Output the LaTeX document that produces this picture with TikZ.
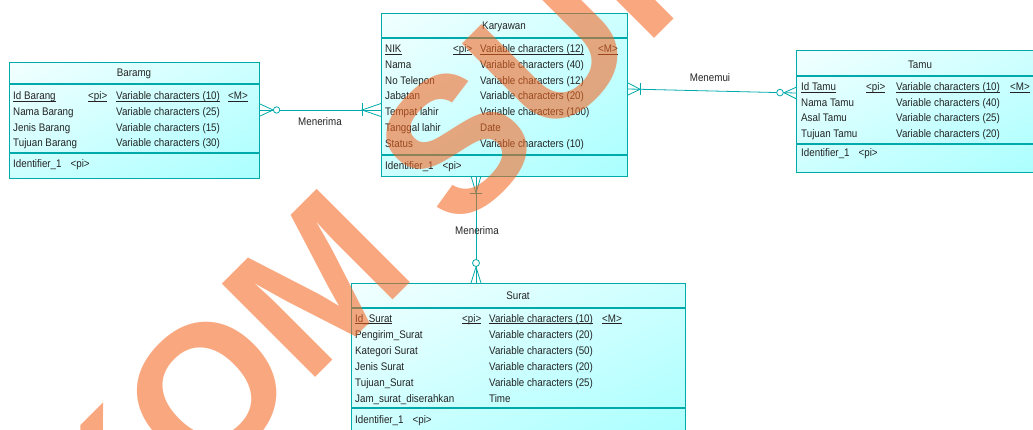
\documentclass[tikz,border=0pt]{standalone}
\usepackage{fontspec}
\setmainfont{Liberation Sans}[FakeStretch=0.89]
\newfontfamily\wmfont{Liberation Sans}
\usetikzlibrary{calc,shadings}

\definecolor{erline}{RGB}{0,170,170}
\definecolor{erlight}{RGB}{242,255,255}
\definecolor{ermid}{RGB}{205,255,255}
\definecolor{erdeep}{RGB}{170,255,255}
\definecolor{ertext}{RGB}{35,35,35}
\definecolor{wmorange}{RGB}{245,100,30}

\newcommand\erfont{\fontsize{11pt}{13pt}\selectfont}
% primary-key underline at a fixed depth
\newcommand\pk[1]{\setbox0\hbox{#1}\rlap{\rule[-1.8pt]{\wd0}{0.6pt}}\box0}

\begin{document}
\begin{tikzpicture}[x=1pt,y=-1pt,
  entity/.style={draw=erline, line width=1.1pt, shade,
    upper left=erlight, upper right=ermid, lower left=ermid, lower right=erdeep,
    inner sep=0pt, anchor=north west},
  rule/.style={draw=erline, line width=1.1pt},
  conn/.style={draw=erline, line width=0.8pt},
  title/.style={anchor=base, inner sep=0pt, font=\erfont, text=ertext},
  fld/.style={anchor=base west, inner sep=0pt, font=\erfont, text=ertext},
  rel/.style={anchor=base, inner sep=0pt, font=\erfont, text=ertext},
  wm/.style={rotate=45, inner sep=0pt, outer sep=0pt, text=wmorange, text opacity=0.57,
    font=\wmfont\bfseries\fontsize{191.8pt}{192pt}\selectfont}]
\useasboundingbox (0,0) rectangle (1033,430);
\begin{scope}
\clip (0,0) rectangle (1033,430);

% ---------------- Barang ----------------
\node[entity, minimum width=250pt, minimum height=116pt] (barang) at (9,62) {};
\draw[rule] ($(barang.north west)+(0,22)$) -- ($(barang.north east)+(0,22)$);
\draw[rule] ($(barang.north west)+(0,91)$) -- ($(barang.north east)+(0,91)$);
\node[title] (barang-t) at (134,77) {Baramg};
\node[fld] (b1n) at (13,99.5) {\pk{Id Barang}};
\node[fld] (b1p) at (88,99.5) {\pk{<pi>}};
\node[fld] (b1t) at (116,99.5) {\pk{Variable characters (10)}};
\node[fld] (b1m) at (228,99.5) {\pk{<M>}};
\node[fld] (b2n) at (13,115.3) {Nama Barang};
\node[fld] (b2t) at (116,115.3) {Variable characters (25)};
\node[fld] (b3n) at (13,131.1) {Jenis Barang};
\node[fld] (b3t) at (116,131.1) {Variable characters (15)};
\node[fld] (b4n) at (13,146.9) {Tujuan Barang};
\node[fld] (b4t) at (116,146.9) {Variable characters (30)};
\node[fld] (bkey) at (13,167.7) {Identifier\_1\hspace{9pt}<pi>};

% ---------------- Karyawan ----------------
\node[entity, minimum width=246pt, minimum height=163pt] (kary) at (381,13) {};
\draw[rule] ($(kary.north west)+(0,25)$) -- ($(kary.north east)+(0,25)$);
\draw[rule] ($(kary.north west)+(0,142)$) -- ($(kary.north east)+(0,142)$);
\node[title] (kary-t) at (504,29.7) {Karyawan};
\node[fld] (k1n) at (385,52.6) {\pk{NIK}};
\node[fld] (k1p) at (453,52.6) {\pk{<pi>}};
\node[fld] (k1t) at (480,52.6) {\pk{Variable characters (12)}};
\node[fld] (k1m) at (598,52.6) {\pk{<M>}};
\node[fld] (k2n) at (385,68.4) {Nama};
\node[fld] (k2t) at (480,68.4) {Variable characters (40)};
\node[fld] (k3n) at (385,84.2) {No Telepon};
\node[fld] (k3t) at (480,84.2) {Variable characters (12)};
\node[fld] (k4n) at (385,100) {Jabatan};
\node[fld] (k4t) at (480,100) {Variable characters (20)};
\node[fld] (k5n) at (385,115.8) {Tempat lahir};
\node[fld] (k5t) at (480,115.8) {Variable characters (100)};
\node[fld] (k6n) at (385,131.6) {Tanggal lahir};
\node[fld] (k6t) at (480,131.6) {Date};
\node[fld] (k7n) at (385,147.4) {Status};
\node[fld] (k7t) at (480,147.4) {Variable characters (10)};
\node[fld] (kkey) at (385,170) {Identifier\_1\hspace{9pt}<pi>};

% ---------------- Tamu ----------------
\node[entity, minimum width=248pt, minimum height=122pt] (tamu) at (796,50) {};
\draw[rule] ($(tamu.north west)+(0,26)$) -- ($(tamu.north east)+(0,26)$);
\draw[rule] ($(tamu.north west)+(0,94)$) -- ($(tamu.north east)+(0,94)$);
\node[title] (tamu-t) at (920,68.3) {Tamu};
\node[fld] (t1n) at (801,90.6) {\pk{Id Tamu}};
\node[fld] (t1p) at (866,90.6) {\pk{<pi>}};
\node[fld] (t1t) at (896,90.6) {\pk{Variable characters (10)}};
\node[fld] (t1m) at (1010,90.6) {\pk{<M>}};
\node[fld] (t2n) at (801,106.2) {Nama Tamu};
\node[fld] (t2t) at (896,106.2) {Variable characters (40)};
\node[fld] (t3n) at (801,121.8) {Asal Tamu};
\node[fld] (t3t) at (896,121.8) {Variable characters (25)};
\node[fld] (t4n) at (801,137.4) {Tujuan Tamu};
\node[fld] (t4t) at (896,137.4) {Variable characters (20)};
\node[fld] (tkey) at (801,157) {Identifier\_1\hspace{9pt}<pi>};

% ---------------- Surat ----------------
\node[entity, minimum width=334pt, minimum height=153pt] (surat) at (351,283) {};
\draw[rule] ($(surat.north west)+(0,25)$) -- ($(surat.north east)+(0,25)$);
\draw[rule] ($(surat.north west)+(0,125)$) -- ($(surat.north east)+(0,125)$);
\node[title] (surat-t) at (518,299) {Surat};
\node[fld] (s1n) at (355,322) {\pk{Id\_Surat}};
\node[fld] (s1p) at (462,322) {\pk{<pi>}};
\node[fld] (s1t) at (489,322) {\pk{Variable characters (10)}};
\node[fld] (s1m) at (602,322) {\pk{<M>}};
\node[fld] (s2n) at (355,338) {Pengirim\_Surat};
\node[fld] (s2t) at (489,338) {Variable characters (20)};
\node[fld] (s3n) at (355,354) {Kategori Surat};
\node[fld] (s3t) at (489,354) {Variable characters (50)};
\node[fld] (s4n) at (355,370) {Jenis Surat};
\node[fld] (s4t) at (489,370) {Variable characters (20)};
\node[fld] (s5n) at (355,386) {Tujuan\_Surat};
\node[fld] (s5t) at (489,386) {Variable characters (25)};
\node[fld] (s6n) at (355,402) {Jam\_surat\_diserahkan};
\node[fld] (s6t) at (489,402) {Time};
\node[fld] (skey) at (355,423) {Identifier\_1\hspace{9pt}<pi>};

% ---------------- Relationships ----------------
% Barang (0..n) -- Karyawan (1..n): Menerima
\coordinate (r1a) at (barang.east |- 0,110);
\coordinate (r1b) at (kary.west |- 0,110);
\draw[conn] (r1a) -- (r1b);
\draw[conn] (r1a) ++(0,-6) -- ++(13,6) -- ++(-13,6);
\draw[conn, fill=white] ($(r1a)+(16.5,0)$) circle[radius=3.2];
\draw[conn] (r1b) ++(0,-6.5) -- ++(-19,6.5) -- ++(19,6.5);
\draw[conn] ($(r1b)+(-19,-6.5)$) -- ($(r1b)+(-19,6.5)$);
\node[rel] (r1l) at (320,126) {Menerima};

% Karyawan (1..n) -- Tamu (0..n): Menemui
\coordinate (r2a) at (kary.east |- 0,89);
\coordinate (r2b) at (tamu.west |- 0,93);
\draw[conn] (r2a) -- (r2b);
\draw[conn] (r2a) ++(0,-6) -- ++(12,6.3) -- ++(-12,5.7);
\draw[conn] ($(r2a)+(12,-5.7)$) -- ($(r2a)+(12,6.3)$);
\draw[conn] (r2b) ++(0,-5.7) -- ++(-12,5.4) -- ++(12,6);
\draw[conn, fill=white] ($(r2b)+(-16,-0.4)$) circle[radius=3.3];
\node[rel] (r2l) at (710,82) {Menemui};

% Karyawan (1..n) -- Surat (0..n): Menerima
\coordinate (r3a) at (476,176);
\coordinate (r3b) at (476,283);
\draw[conn] (r3a) -- (r3b);
\draw[conn] (r3a) ++(-5,0) -- ++(5,17) -- ++(5,-17);
\draw[conn] ($(r3a)+(-6,17)$) -- ($(r3a)+(6,17)$);
\draw[conn] (r3b) ++(-5,0) -- ++(5,-16) -- ++(5,16);
\draw[conn, fill=white] ($(r3b)+(0,-20)$) circle[radius=3.5];
\node[rel] (r3l) at (477,235) {Menerima};

% ---------------- Watermark ----------------
\node[wm, anchor=base east] (wm-a) at (419.9,273.5) {STIKOM};
\node[wm, anchor=base west] (wm-b) at (457.4,236) {SURABAYA};
\end{scope}
\end{tikzpicture}
\end{document}
